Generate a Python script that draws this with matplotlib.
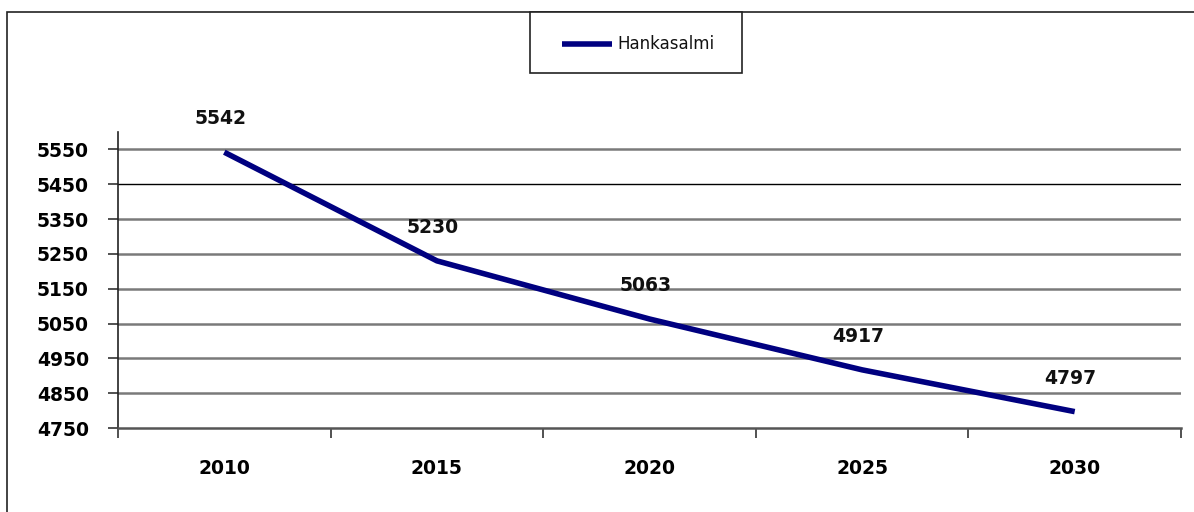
import matplotlib
matplotlib.use("Agg")
import matplotlib.pyplot as plt
from matplotlib.patches import Rectangle
from matplotlib.lines import Line2D

years = ["2010", "2015", "2020", "2025", "2030"]
values = [5542, 5230, 5063, 4917, 4797]
series_name = "Hankasalmi"
yticks = [4750, 4850, 4950, 5050, 5150, 5250, 5350, 5450, 5550]

W, H = 1194, 512
fig = plt.figure(figsize=(W / 100, H / 100), dpi=100)
fig.patch.set_facecolor("white")

# outer frame
fig.patches.append(Rectangle((7 / W, -0.1), 1.2, 1 - 12 / H + 0.1, transform=fig.transFigure,
                             fill=False, edgecolor="#222222", linewidth=1.2))

ax = fig.add_axes([118 / W, 1 - 428 / H, (1181 - 118) / W, (428 - 132) / H])
x = list(range(len(years)))
line_color = "#000080"
ax.plot(x, values, color=line_color, linewidth=4.0, solid_capstyle="butt", zorder=3)

ax.set_xlim(-0.5, len(years) - 0.5)
ax.set_ylim(4750, 5600)
ax.set_yticks(yticks)
ax.set_yticklabels([str(v) for v in yticks], fontsize=13.5, fontweight="bold")
for v in yticks:
    if v == 4750:
        continue
    if v == 5450:
        ax.axhline(v, color="#000000", linewidth=1.0, zorder=1)
    else:
        ax.axhline(v, color="#7a7a7a", linewidth=1.8, zorder=1)

ax.set_xticks(x)
ax.set_xticklabels(years, fontsize=13.5, fontweight="bold")
ax.set_xticks([i - 0.5 for i in range(len(years) + 1)], minor=True)
ax.tick_params(axis="x", which="major", length=0, pad=22)
ax.tick_params(axis="x", which="minor", length=7, width=1.2, color="#333333", direction="out")
ax.tick_params(axis="y", which="major", length=7, width=1.2, color="#333333", direction="out", pad=14)

for s in ["top", "right"]:
    ax.spines[s].set_visible(False)
ax.spines["left"].set_color("#222222")
ax.spines["left"].set_linewidth(1.2)
ax.spines["bottom"].set_color("#555555")
ax.spines["bottom"].set_linewidth(1.8)

for xi, v in zip(x, values):
    ax.annotate(str(v), (xi, v), xytext=(-3, 24), textcoords="offset points",
                ha="center", va="center", fontsize=13.5, fontweight="bold", color="#111111")

# legend box
fig.patches.append(Rectangle((530 / W, 1 - 73 / H), (742 - 530) / W, (73 - 12) / H,
                             transform=fig.transFigure, fill=True, facecolor="white",
                             edgecolor="#222222", linewidth=1.2))
fig.lines.append(Line2D([562 / W, 612 / W], [1 - 44 / H, 1 - 44 / H], transform=fig.transFigure,
                        color=line_color, linewidth=4.0, solid_capstyle="butt"))
fig.text(617 / W, 1 - 44 / H, series_name, fontsize=12, ha="left", va="center", color="#111111")

fig.savefig("out.png", dpi=100, facecolor="white")
